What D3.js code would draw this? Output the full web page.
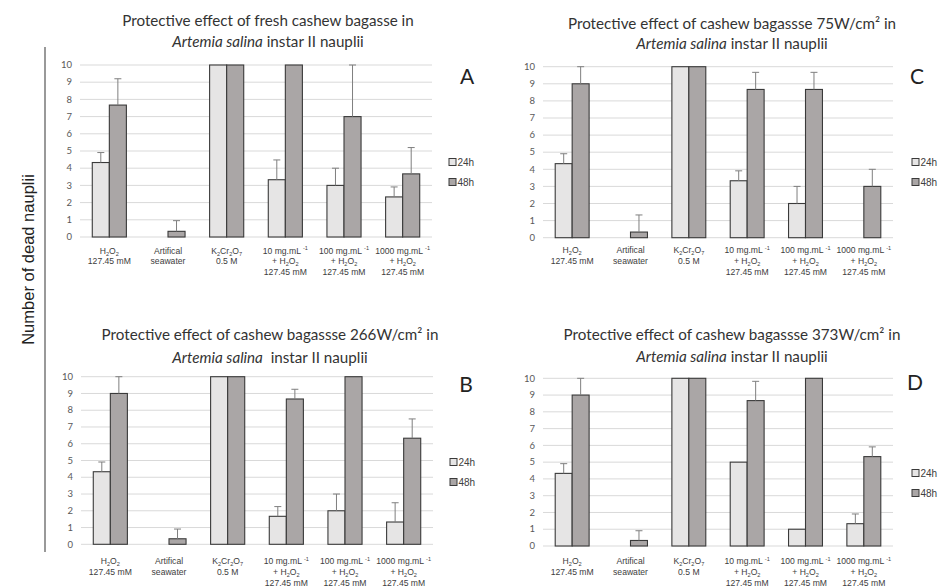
<!DOCTYPE html>
<html><head><meta charset="utf-8">
<script src="https://cdn.jsdelivr.net/npm/d3@7"></script>
<style>body{margin:0;background:#fff} svg{display:block}</style>
</head><body><svg id="c" width="939" height="587"></svg>
<script>
// ---------------- data ----------------
const categories = ["H2O2", "Seawater", "K2Cr2O7", "10 mg", "100 mg", "1000 mg"];
const categoryLabels = [
  ["H{2}O{2}", "127.45 mM"],
  ["Artifical", "seawater"],
  ["K{2}Cr{2}O{7}", "0.5 M"],
  ["10 mg.mL ^{-1}", "+ H{2}O{2}", "127.45 mM"],
  ["100 mg.mL ^{-1}", "+ H{2}O{2}", "127.45 mM"],
  ["1000 mg.mL ^{-1}", "+ H{2}O{2}", "127.45 mM"]
];
const seriesNames = ["24h", "48h"];
const yTicks = [0, 1, 2, 3, 4, 5, 6, 7, 8, 9, 10];
const yAxisTitle = "Number of dead nauplii";
const panelLetters = ["A", "C", "B", "D"];
const titleLine1 = [
  "Protective effect of fresh cashew bagasse in",
  "Protective effect of cashew bagassse 75W/cm\u00B2 in",
  "Protective effect of cashew bagassse 266W/cm\u00B2 in",
  "Protective effect of cashew bagassse 373W/cm\u00B2 in"
];
const titleItalic = "Artemia salina";
const titleRest = [" instar II nauplii", " instar II nauplii", "  instar II nauplii", " instar II nauplii"];

// panel A (fresh)
const A_24h = [4.33, 0, 10, 3.33, 3, 2.33];
const A_24h_sd = [0.58, 0, 0, 1.15, 1, 0.58];
const A_48h = [7.67, 0.33, 10, 10, 7, 3.67];
const A_48h_sd = [1.53, 0.62, 0, 0, 3, 1.53];
// panel C (75 W/cm2)
const C_24h = [4.33, 0, 10, 3.33, 2, 0];
const C_24h_sd = [0.58, 0, 0, 0.58, 1, 0];
const C_48h = [9, 0.33, 10, 8.67, 8.67, 3];
const C_48h_sd = [1, 1, 0, 1, 1, 1];
// panel B (266 W/cm2)
const B_24h = [4.33, 0, 10, 1.67, 2, 1.33];
const B_24h_sd = [0.58, 0, 0, 0.58, 1, 1.15];
const B_48h = [9, 0.33, 10, 8.67, 10, 6.33];
const B_48h_sd = [1, 0.58, 0, 0.58, 0, 1.15];
// panel D (373 W/cm2)
const D_24h = [4.33, 0, 10, 5, 1, 1.33];
const D_24h_sd = [0.58, 0, 0, 0, 0, 0.58];
const D_48h = [9, 0.33, 10, 8.67, 10, 5.33];
const D_48h_sd = [1, 0.58, 0, 1.15, 0, 0.58];

// ---------------- layout ----------------
const layouts = [
  {x0:80, x1:432, y0:237, y10:65, tX:268, tY1:26, tY2:47, lX:467, lY:84, gX:449, gY:162, labY:250.5},
  {x0:543, x1:893, y0:237.7, y10:66.7, tX:732, tY1:29, tY2:49, lX:917, lY:84, gX:912, gY:162, labY:250},
  {x0:81, x1:433, y0:544.3, y10:376.7, tX:270, tY1:340, tY2:363, lX:466, lY:392, gX:450, gY:462, labY:561},
  {x0:543, x1:893, y0:546, y10:378.3, tX:732, tY1:340, tY2:362, lX:915, lY:390, gX:912, gY:473, labY:561}
];
const panelData = [
  [[A_24h, A_24h_sd], [A_48h, A_48h_sd]],
  [[C_24h, C_24h_sd], [C_48h, C_48h_sd]],
  [[B_24h, B_24h_sd], [B_48h, B_48h_sd]],
  [[D_24h, D_24h_sd], [D_48h, D_48h_sd]]
];
const fills = {"24h": "#e6e5e5", "48h": "#aaa6a6"};
const barStroke = "#3a3a3a";
const titleFont = "Lato, 'Open Sans', sans-serif";
const labelFont = "'Liberation Sans', Arial, sans-serif";

const svg = d3.select("#c");

// left axis title + vertical rule
svg.append("line").attr("x1", 45).attr("x2", 45).attr("y1", 47).attr("y2", 552)
  .attr("stroke", "#555").attr("stroke-width", 1.2);
svg.append("text").attr("transform", "translate(34,259.5) rotate(-90)")
  .attr("text-anchor", "middle").attr("font-family", labelFont).attr("font-size", 16.5)
  .attr("fill", "#222").text(yAxisTitle);

function richText(sel, str, baseSize) {
  const re = /(\^\{[^}]*\}|\{[^}]*\})/g;
  const parts = str.split(re).filter(s => s.length);
  let shift = 0;
  parts.forEach(p => {
    let t = p, dy = 0, size = baseSize;
    if (p.startsWith("^{")) { t = p.slice(2, -1); dy = -3.5; size = baseSize * 0.65; }
    else if (p.startsWith("{")) { t = p.slice(1, -1); dy = 2; size = baseSize * 0.65; }
    sel.append("tspan").attr("font-size", size).attr("dy", dy - shift).text(t);
    shift = dy;
  });
}

layouts.forEach((L, pi) => {
  const g = svg.append("g");
  const x0 = d3.scaleBand().domain(categories).range([L.x0, L.x1]).paddingInner(0).paddingOuter(0);
  const x1 = d3.scaleBand().domain(seriesNames).range([0, x0.bandwidth()]).paddingInner(0).paddingOuter(0.72);
  const y = d3.scaleLinear().domain([0, 10]).range([L.y0, L.y10]);

  // gridlines
  g.selectAll("line.grid").data(yTicks).join("line")
    .attr("x1", L.x0).attr("x2", L.x1)
    .attr("y1", d => y(d)).attr("y2", d => y(d))
    .attr("stroke", "#d9d9d9").attr("stroke-width", 1);
  // tick labels
  g.selectAll("text.tick").data(yTicks).join("text")
    .attr("x", L.x0 - 8).attr("y", d => y(d) + 3.2)
    .attr("text-anchor", "end").attr("font-family", titleFont).attr("font-size", 9.5)
    .attr("fill", "#595959").text(d => d);

  // bars
  const data = panelData[pi];
  seriesNames.forEach((s, si) => {
    const vals = data[si][0], sds = data[si][1];
    const rows = categories.map((c, ci) => ({c, v: vals[ci], sd: sds[ci]}));
    g.selectAll("rect.s" + si).data(rows.filter(r => r.v > 0)).join("rect")
      .attr("x", r => x0(r.c) + x1(s)).attr("width", x1.bandwidth())
      .attr("y", r => y(r.v)).attr("height", r => y(0) - y(r.v))
      .attr("fill", fills[s]).attr("stroke", barStroke).attr("stroke-width", 1.1);
    const eb = rows.filter(r => r.sd > 0);
    const cx = r => x0(r.c) + x1(s) + x1.bandwidth() / 2;
    g.selectAll("line.e" + si).data(eb).join("line")
      .attr("x1", cx).attr("x2", cx).attr("y1", r => y(r.v)).attr("y2", r => y(r.v + r.sd))
      .attr("stroke", "#7f7f7f").attr("stroke-width", 1);
    g.selectAll("line.c" + si).data(eb).join("line")
      .attr("x1", r => cx(r) - 3.5).attr("x2", r => cx(r) + 3.5)
      .attr("y1", r => y(r.v + r.sd)).attr("y2", r => y(r.v + r.sd))
      .attr("stroke", "#7f7f7f").attr("stroke-width", 1);
  });

  // category labels
  categories.forEach((c, ci) => {
    const cxp = x0(c) + x0.bandwidth() / 2;
    categoryLabels[ci].forEach((line, li) => {
      const t = g.append("text").attr("x", cxp).attr("y", L.labY + 3 + li * 10.8)
        .attr("text-anchor", "middle").attr("font-family", labelFont).attr("font-size", 8.6)
        .attr("fill", "#3d3d3d");
      richText(t, line, 8.6);
    });
  });

  // title
  g.append("text").attr("x", L.tX).attr("y", L.tY1).attr("text-anchor", "middle")
    .attr("font-family", titleFont).attr("font-size", 15.2).attr("fill", "#333").text(titleLine1[pi]);
  const t2 = g.append("text").attr("x", L.tX).attr("y", L.tY2).attr("text-anchor", "middle")
    .attr("font-family", titleFont).attr("font-size", 15.2).attr("fill", "#333")
    .style("white-space", "pre");
  t2.append("tspan").attr("font-style", "italic").text(titleItalic);
  t2.append("tspan").text(titleRest[pi]);

  // letter
  g.append("text").attr("x", L.lX).attr("y", L.lY).attr("text-anchor", "middle")
    .attr("font-family", titleFont).attr("font-size", 21).attr("fill", "#222").text(panelLetters[pi]);

  // legend
  seriesNames.forEach((s, si) => {
    const yy = L.gY + si * 20;
    g.append("rect").attr("x", L.gX).attr("y", yy - 3.5).attr("width", 7).attr("height", 7)
      .attr("fill", fills[s]).attr("stroke", barStroke).attr("stroke-width", 1);
    g.append("text").attr("x", L.gX + 8.5).attr("y", yy + 3.6)
      .attr("font-family", labelFont).attr("font-size", 10).attr("fill", "#404040").text(s);
  });
});
</script></body></html>
